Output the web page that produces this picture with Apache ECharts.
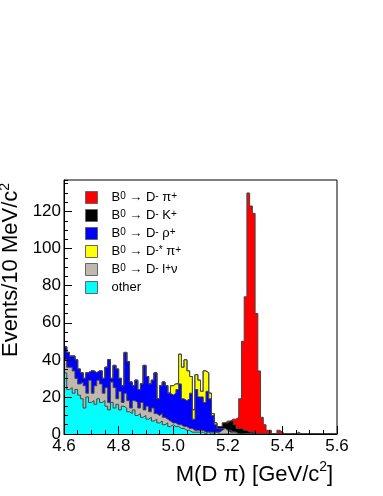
<!DOCTYPE html>
<html>
<head>
<meta charset="utf-8">
<script src="https://cdn.jsdelivr.net/npm/echarts@6/dist/echarts.min.js"></script>
<style>
html, body { margin: 0; padding: 0; background: #fff; }
#chart { width: 383px; height: 496px; }
</style>
</head>
<body>
<div id="chart"></div>
<script>
// bins: 10 MeV wide, from 4.60 to 5.60 GeV
var binLow = 4.6, binWidth = 0.01;

var otherVals = [
	33,24,25,22,24,21,19,14,20,17,
	18,16,19,17,18,15,13,17,14,16,
	13,15,14,12,11,13,10,11, 9,10,
	 8, 9, 7, 8, 6, 7, 5, 6, 4, 5,
	 4, 4, 3, 3, 2, 2, 1, 1, 1, 1,
	 1, 0, 1, 0, 0, 1, 0, 0, 0, 0,
	 0, 0, 0, 0, 0, 0, 0, 0, 0, 0,
	 0, 0, 0, 0, 0, 0, 0, 0, 0, 0,
	 0, 0, 0, 0, 0, 0, 0, 0, 0, 0,
	 0, 0, 0, 0, 0, 0, 0, 0, 0, 0
];
var lnuVals = [
	 7,12,11,12, 6, 6, 9,12, 2,12,
	 4,10,10,10, 4,10, 4,11,11, 3,
	10, 2, 8, 6, 3, 5, 7, 3, 8, 3,
	 7, 3, 7, 3, 4, 4, 4, 2, 3, 1,
	 2, 1, 2, 1, 2, 1, 2, 1, 1, 1,
	 1, 1, 0, 1, 1, 0, 1, 2, 3, 2,
	 1, 1, 1, 0, 0, 0, 0, 0, 0, 0,
	 0, 0, 0, 0, 0, 0, 0, 0, 0, 0,
	 0, 0, 0, 0, 0, 0, 0, 0, 0, 0,
	 0, 0, 0, 0, 0, 0, 0, 0, 0, 0
];
var rhoVals = [
	 7, 8, 6, 8,10, 8, 5, 4,11, 5,
	12, 7, 5, 7, 8,11,23, 2,12,16,
	 7, 9,22,21,14, 8,12,10,10,24,
	16,15,15,22, 9,15,19,18,15,15,
	16,19,22,15,14,16,19, 6,22,18,
	18,16,22,18, 9, 4, 2, 1, 0, 0,
	 1, 0, 0, 0, 0, 0, 0, 0, 0, 0,
	 0, 0, 0, 0, 0, 0, 0, 0, 0, 0,
	 0, 0, 0, 0, 0, 0, 0, 0, 0, 0,
	 0, 0, 0, 0, 0, 0, 0, 0, 0, 0
];
var dstVals = [
	 0, 0, 0, 0, 0, 0, 0, 0, 0, 0,
	 0, 0, 0, 0, 0, 0, 0, 0, 0, 0,
	 0, 0, 0, 0, 0, 0, 0, 0, 0, 0,
	 0, 0, 0, 0, 0, 0, 0, 0, 0, 5,
	 5, 3,16,17,22,15, 9, 5, 8, 9,
	 3,17,10, 3, 1, 1, 0, 0, 0, 0,
	 0, 0, 0, 0, 0, 0, 0, 0, 0, 0,
	 0, 0, 0, 0, 0, 0, 0, 0, 0, 0,
	 0, 0, 0, 0, 0, 0, 0, 0, 0, 0,
	 0, 0, 0, 0, 0, 0, 0, 0, 0, 0
];
var dkVals = [
	 0, 0, 0, 0, 0, 0, 0, 0, 0, 0,
	 0, 0, 0, 0, 0, 0, 0, 0, 0, 0,
	 0, 0, 0, 0, 0, 0, 0, 0, 0, 0,
	 0, 0, 0, 0, 0, 0, 0, 0, 0, 0,
	 0, 0, 0, 0, 0, 0, 0, 0, 0, 0,
	 0, 0, 0, 0, 0, 0, 1, 1, 3, 4,
	 5, 6, 4, 3, 3, 2, 2, 1, 1, 1,
	 0, 0, 0, 0, 0, 0, 0, 0, 0, 0,
	 0, 0, 0, 0, 0, 0, 0, 0, 0, 0,
	 0, 0, 0, 0, 0, 0, 0, 0, 0, 0
];
var dpiVals = [
	 0, 0, 0, 0, 0, 0, 0, 0, 0, 0,
	 0, 0, 0, 0, 0, 0, 0, 0, 0, 0,
	 0, 0, 0, 0, 0, 0, 0, 0, 0, 0,
	 0, 0, 0, 0, 0, 0, 0, 0, 0, 0,
	 0, 0, 0, 0, 0, 0, 0, 0, 0, 0,
	 0, 0, 0, 0, 0, 0, 0, 0, 0, 1,
	 0, 1, 3, 6,16,48,72,129,122,118,
	65,34, 9, 5, 2, 2, 0, 0, 2, 1,
	 0, 0, 0, 0, 0, 1, 0, 0, 0, 0,
	 0, 0, 0, 0, 0, 0, 0, 0, 0, 0
];

var legendOrder = ['Dpi', 'DK', 'Drho', 'Dstpi', 'Dlnu', 'other'];
var legendText = {
	Dpi: 'B{s|0} \u2192 D{s|-} \u03c0{s|+}',
	DK: 'B{s|0} \u2192 D{s|-} K{s|+}',
	Drho: 'B{s|0} \u2192 D{s|-} \u03c1{s|+}',
	Dstpi: 'B{s|0} \u2192 D{s|-*} \u03c0{s|+}',
	Dlnu: 'B{s|0} \u2192 D{s|-} l{s|+}\u03bd',
	other: 'other'
};

// stacking order, bottom first
var stackList = [
	{name: 'other', vals: otherVals, color: '#00ffff'},
	{name: 'Dlnu', vals: lnuVals, color: '#c0b8ae'},
	{name: 'Drho', vals: rhoVals, color: '#0000ff'},
	{name: 'Dstpi', vals: dstVals, color: '#ffff00'},
	{name: 'DK', vals: dkVals, color: '#000000'},
	{name: 'Dpi', vals: dpiVals, color: '#ff0000'}
];

var font = 'Liberation Sans, Arial, Helvetica, sans-serif';

// like THStack: each histogram is drawn as the running sum of the ones below it
function histData(sum) {
	var d = [];
	for (var i = 0; i <= sum.length; i++) {
		d.push([+(binLow + i * binWidth).toFixed(2), i < sum.length ? sum[i] : 0]);
	}
	return d;
}

var myChart = echarts.init(document.getElementById('chart'));

var running = otherVals.map(function () { return 0; });
var series = stackList.map(function (s, k) {
	running = running.map(function (v, i) { return v + s.vals[i]; });
	return {
		name: s.name,
		type: 'line',
		step: 'end',
		symbol: 'none',
		showSymbol: false,
		silent: true,
		z: 10 - k,  // lower sums drawn last, on top of the higher ones
		itemStyle: {color: s.color},
		lineStyle: {color: '#444', width: 1},
		areaStyle: {color: s.color, opacity: 1},
		data: histData(running)
	};
});

var option = {
	animation: false,
	textStyle: {fontFamily: font},
	grid: {
		left: 64, top: 180, width: 273, height: 254,
		show: true, borderColor: '#000', borderWidth: 1,
		backgroundColor: 'transparent',
		outerBoundsMode: 'none'
	},
	legend: {
		orient: 'vertical',
		left: 80,
		top: 186,
		itemWidth: 12,
		itemHeight: 12,
		itemGap: 5,
		icon: 'rect',
		selectedMode: false,
		data: legendOrder,
		itemStyle: {borderColor: '#666', borderWidth: 1},
		formatter: function (n) { return legendText[n]; },
		textStyle: {
			color: '#000', fontFamily: font, fontSize: 13, lineHeight: 12,
			padding: [0, 0, 0, 9],
			rich: {
				s: {fontSize: 10, lineHeight: 8, verticalAlign: 'top'}
			}
		}
	},
	xAxis: {
		type: 'value',
		min: 4.6,
		max: 5.6,
		interval: 0.2,
		z: 20,
		axisLine: {show: true, onZero: false, lineStyle: {color: '#000', width: 1}},
		axisTick: {show: true, inside: true, length: 8, lineStyle: {color: '#000'}},
		minorTick: {show: true, splitNumber: 4, length: 4, lineStyle: {color: '#000'}},
		splitLine: {show: false},
		axisLabel: {
			color: '#000', fontSize: 17, fontFamily: font, margin: 4,
			formatter: function (v) { return v.toFixed(1); }
		},
		name: '{m|M(D \u03c0) [GeV/c}{u|2}{m|]}',
		nameLocation: 'middle',
		nameGap: 24,
		nameTextStyle: {
			color: '#000', fontFamily: font,
			padding: [0, 0, 0, 108],
			rich: {
				m: {fontSize: 22, lineHeight: 30},
				u: {fontSize: 14, lineHeight: 14, verticalAlign: 'top'}
			}
		}
	},
	yAxis: [
		{
			type: 'value',
			min: 0,
			max: 137,
			interval: 20,
			position: 'left',
			z: 20,
			axisLine: {show: true, lineStyle: {color: '#000', width: 1}},
			axisTick: {show: true, inside: true, length: 8, lineStyle: {color: '#000'}},
			splitLine: {show: false},
			axisLabel: {color: '#000', fontSize: 17, fontFamily: font, margin: 3, showMaxLabel: false},
			name: '{m|Events/10 MeV/c}{u|2}',
			nameLocation: 'middle',
			nameRotate: 90,
			nameGap: 32,
			nameTextStyle: {
				color: '#000', fontFamily: font,
				padding: [0, 0, 0, 74],
				rich: {
					m: {fontSize: 22, lineHeight: 26},
					u: {fontSize: 14, lineHeight: 14, verticalAlign: 'top'}
				}
			}
		},
		{
			// minor ticks every 5 events
			type: 'value',
			min: 0,
			max: 137,
			interval: 5,
			position: 'left',
			z: 20,
			axisLine: {show: false},
			axisTick: {show: true, inside: true, length: 4, lineStyle: {color: '#000'}},
			splitLine: {show: false},
			axisLabel: {show: false}
		}
	],
	series: series
};

myChart.setOption(option);
</script>
</body>
</html>
